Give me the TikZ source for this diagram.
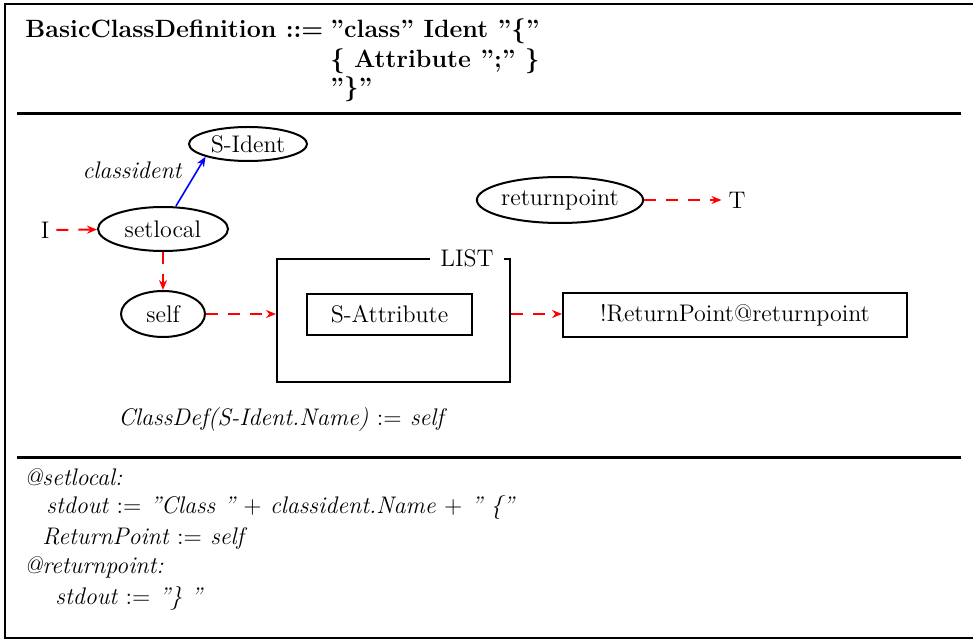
\documentclass[tikz,border=0pt]{standalone}
\usepackage{tikz}
\usetikzlibrary{arrows.meta,shapes,positioning}

\begin{document}
\begin{tikzpicture}[x=0.5pt,y=-0.5pt,font=\fontsize{12}{14}\selectfont,
    oval/.style={draw,line width=1pt,ellipse,inner sep=0pt},
    box/.style={draw,line width=1pt,rectangle,inner sep=0pt},
    flow/.style={red,line width=1pt,dash pattern=on 6pt off 5pt,-{Stealth[length=5pt,width=4pt]}},
    link/.style={blue,line width=0.8pt,-{Stealth[length=5pt,width=4pt]}},
    rule/.style={line width=1.5pt},
    code/.style={anchor=base west,inner sep=0pt,font=\fontsize{12}{14}\itshape}]
      \useasboundingbox (0,0) rectangle (973,641);

      % Frame and separators
      \draw[line width=1pt] (980,4) -- (5,4) -- (5,638) -- (980,638);
      \draw[rule] (17,114) -- (961,114);
      \draw[rule] (17,457) -- (961,457);

      % Grammar rule
      \node[code,font=\fontsize{12.5}{14}\bfseries] (lhs) at (25,38) {BasicClassDefinition ::=};
      \node[code,font=\fontsize{12.5}{14}\bfseries] (rhs1) at (330,38) {''class'' Ident ''\{''};
      \node[code,font=\fontsize{12.5}{14}\bfseries] (rhs2) at (330,68) {\{ Attribute '';'' \}};
      \node[code,font=\fontsize{12.5}{14}\bfseries] (rhs3) at (330,96) {''\}''};

      % Nodes
      \node[oval,minimum width=59pt,minimum height=17pt] (sident) at (248,144) {S-Ident};
      \node[oval,minimum width=65pt,minimum height=22pt] (setlocal) at (163,229) {setlocal};
      \node[oval,minimum width=42pt,minimum height=23pt] (self) at (163,314) {self};
      \node[oval,minimum width=82pt,minimum height=23pt] (returnpoint) at (560,200) {returnpoint};
      \node (in) at (45,230) {I};
      \node (out) at (737,200) {T};
      \node[font=\fontsize{12}{14}\itshape] (classident) at (132,170) {classident};

      % LIST box
      \node[box,minimum width=116.5pt,minimum height=61.5pt] (list) at (393.5,320.5) {};
      \node[fill=white,inner xsep=5pt,inner ysep=1pt] (listlabel) at (467,258) {LIST};
      \node[box,minimum width=82.5pt,minimum height=20.5pt] (sattr) at (389.5,314.5) {S-Attribute};
      \node[box,minimum width=172pt,minimum height=22pt] (retbox) at (735,315) {!ReturnPoint@returnpoint};

      % Connectors
      \draw[flow] (in) -- (setlocal);
      \draw[link] (setlocal.north) ++(13,0) coordinate (up) -- (sident.south west);
      \draw[flow] (setlocal) -- (self);
      \draw[flow] (self) -- (self -| list.west);
      \draw[flow] (self -| list.east) -- (self -| retbox.west);
      \draw[flow] (returnpoint) -- (out);

      % Semantic rule
      \node[code] (classdef) at (118,425) {ClassDef(S-Ident.Name) $:=$ self};

      % Actions
      \node[code] (code1) at (24,485) {@setlocal:};
      \node[code] (code2) at (46,513) {stdout $:=$ ''Class '' $+$ classident.Name $+$ '' \{''};
      \node[code] (code3) at (42,544) {ReturnPoint $:=$ self};
      \node[code] (code4) at (24,573) {@returnpoint:};
      \node[code] (code5) at (55,604) {stdout $:=$ ''\} ''};
    \end{tikzpicture}
\end{document}
